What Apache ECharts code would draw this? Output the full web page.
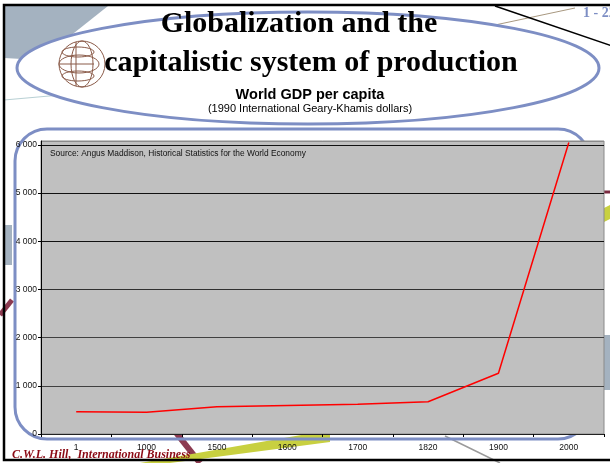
<!DOCTYPE html>
<html><head><meta charset="utf-8">
<script src="https://cdn.jsdelivr.net/npm/echarts@6/dist/echarts.min.js"></script>
<style>html,body{margin:0;padding:0;background:#fff}#c{width:610px;height:463px}</style>
</head><body><div id="c"></div>
<script>
const categories = ['1', '1000', '1500', '1600', '1700', '1820', '1900', '2000'];
const gdpPerCapita = [463, 450, 566, 590, 615, 670, 1260, 6050];
const yTicks = [0, 1000, 2000, 3000, 4000, 5000, 6000];

const chart = echarts.init(document.getElementById('c'), null, {renderer: 'canvas'});
const deco = 'rgba(0,0,0,0)';
chart.setOption({
  animation: false,
  backgroundColor: '#ffffff',
  grid: {left: 41, right: 6, top: 141, bottom: 29, show: true, backgroundColor: '#c0c0c0', borderColor: '#8a8a8a', borderWidth: 1},
  xAxis: {
    type: 'category', data: categories, boundaryGap: true,
    axisLine: {lineStyle: {color: '#222', width: 1}},
    axisTick: {show: true, length: 3, lineStyle: {color: '#000'}},
    axisLabel: {fontFamily: 'Liberation Sans', fontSize: 8.5, color: '#111', margin: 9},
    splitLine: {show: false}
  },
  yAxis: {
    type: 'value', min: 0, max: 6080, interval: 1000,
    axisLine: {show: true, lineStyle: {color: '#000'}},
    axisTick: {show: true, length: 3, lineStyle: {color: '#000'}},
    axisLabel: {fontFamily: 'Liberation Sans', fontSize: 8.5, color: '#111', margin: 4, showMaxLabel: false,
      formatter: v => yTicks.includes(v) ? String(v).replace(/\B(?=(\d{3})+(?!\d))/g, ' ') : ''},
    splitLine: {show: true, lineStyle: {color: ['#404040', '#404040', '#404040', '#303030', '#111', '#111', '#111', '#8a8a8a'], width: 1.2}}
  },
  series: [{
    type: 'line', data: gdpPerCapita, showSymbol: false, symbol: 'none',
    lineStyle: {color: '#ff0000', width: 1.5}, itemStyle: {color: '#ff0000'}, z: 3, clip: false
  }],
  graphic: [
    {type: 'polygon', z: -10, shape: {points: [[4, 6], [108, 6], [40, 60], [4, 58]]}, style: {fill: '#a4b2c0'}},
    {type: 'polygon', z: -10, shape: {points: [[4, 225], [12, 225], [12, 265], [4, 265]]}, style: {fill: '#a4b2c0'}},
    {type: 'polygon', z: -10, shape: {points: [[604, 335], [610, 335], [610, 390], [604, 390]]}, style: {fill: '#a4b2c0'}},
    {type: 'line', z: -10, shape: {x1: 4, y1: 100, x2: 140, y2: 88}, style: {stroke: '#b8d0d4', lineWidth: 1}},
    {type: 'line', z: -10, shape: {x1: 495, y1: 25, x2: 575, y2: 8}, style: {stroke: '#a89880', lineWidth: 1}},
    {type: 'line', z: -10, shape: {x1: 495, y1: 6, x2: 612, y2: 46}, style: {stroke: '#000', lineWidth: 1.5}},
    {type: 'line', z: -10, shape: {x1: 170, y1: 425, x2: 200, y2: 463}, style: {stroke: '#8c3a50', lineWidth: 6}},
    {type: 'line', z: -10, shape: {x1: 0, y1: 315, x2: 12, y2: 300}, style: {stroke: '#8c3a50', lineWidth: 5}},
    {type: 'line', z: -10, shape: {x1: 604, y1: 192, x2: 612, y2: 192}, style: {stroke: '#7a2a40', lineWidth: 3}},
    {type: 'polygon', z: -10, shape: {points: [[140, 463], [330, 430], [330, 442], [170, 463]]}, style: {fill: '#c8d040'}},
    {type: 'polygon', z: -10, shape: {points: [[604, 208], [612, 204], [612, 218], [604, 222]]}, style: {fill: '#c8d040'}},
    {type: 'line', z: -10, shape: {x1: 445, y1: 436, x2: 500, y2: 463}, style: {stroke: '#9a9a9a', lineWidth: 1.5}},
    {type: 'rect', z: -9, shape: {x: 15, y: 129, width: 575, height: 310, r: 32}, style: {fill: deco, stroke: '#7d8ec4', lineWidth: 3}},
    {type: 'ellipse', z: -9, shape: {cx: 308, cy: 68, rx: 291, ry: 56}, style: {fill: '#ffffff', stroke: '#7d8ec4', lineWidth: 3}},
    {type: 'group', z: 20, x: 82, y: 64, children: [
      {type: 'circle', shape: {cx: 0, cy: 0, r: 23}, style: {fill: deco, stroke: '#8a5a48', lineWidth: 1}},
      {type: 'ellipse', shape: {cx: 0, cy: 0, rx: 11, ry: 23}, style: {fill: deco, stroke: '#8a5a48', lineWidth: 1}},
      {type: 'ellipse', shape: {cx: -3, cy: 0, rx: 20, ry: 9}, style: {fill: deco, stroke: '#8a5a48', lineWidth: 1}},
      {type: 'ellipse', shape: {cx: -4, cy: -12, rx: 16, ry: 5}, style: {fill: deco, stroke: '#8a5a48', lineWidth: 1}},
      {type: 'ellipse', shape: {cx: -4, cy: 12, rx: 16, ry: 5}, style: {fill: deco, stroke: '#8a5a48', lineWidth: 1}},
      {type: 'line', shape: {x1: -6, y1: -22, x2: -6, y2: 22}, style: {stroke: '#8a5a48', lineWidth: 1}},
      {type: 'line', shape: {x1: -22, y1: 0, x2: 12, y2: 0}, style: {stroke: '#8a5a48', lineWidth: 1}}
    ]},
    {type: 'rect', z: 50, shape: {x: 4, y: 5, width: 612, height: 455}, style: {fill: deco, stroke: '#000', lineWidth: 2.5}},
    {type: 'text', z: 60, x: 299, y: 24, style: {text: 'Globalization and the', font: 'bold 30px "Liberation Serif"', fill: '#000', align: 'center', verticalAlign: 'middle'}},
    {type: 'text', z: 60, x: 311, y: 63, style: {text: 'capitalistic system of production', font: 'bold 30px "Liberation Serif"', fill: '#000', align: 'center', verticalAlign: 'middle'}},
    {type: 'text', z: 60, x: 310, y: 95, style: {text: 'World GDP per capita', font: 'bold 14.5px "Liberation Sans"', fill: '#000', align: 'center', verticalAlign: 'middle'}},
    {type: 'text', z: 60, x: 310, y: 109, style: {text: '(1990 International Geary-Khamis dollars)', font: '11px "Liberation Sans"', fill: '#000', align: 'center', verticalAlign: 'middle'}},
    {type: 'text', z: 60, x: 50, y: 154, style: {text: 'Source: Angus Maddison, Historical Statistics for the World Economy', font: '8.4px "Liberation Sans"', fill: '#111', align: 'left', verticalAlign: 'middle'}},
    {type: 'text', z: 60, x: 583, y: 13, style: {text: '1 - 22', font: 'bold 14px "Liberation Serif"', fill: '#7d8ec4', align: 'left', verticalAlign: 'middle'}},
    {type: 'text', z: 60, x: 12, y: 455, style: {text: 'C.W.L. Hill,  International Business', font: 'italic bold 12px "Liberation Serif"', fill: '#8b0a14', align: 'left', verticalAlign: 'middle'}}
  ]
});
</script></body></html>
